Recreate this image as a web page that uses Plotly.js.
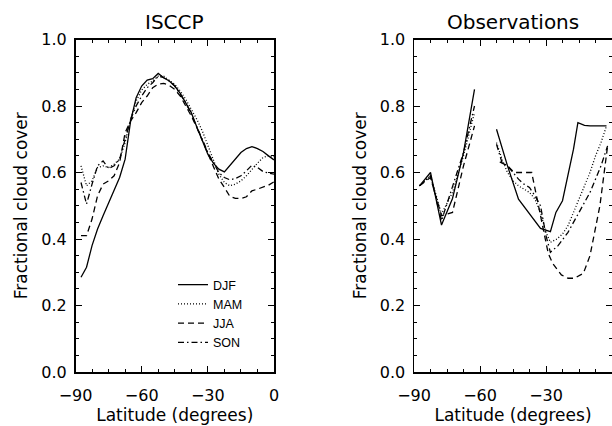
<!DOCTYPE html>
<html><head><meta charset="utf-8">
<script src="https://cdn.plot.ly/plotly-3.0.1.min.js"></script>
<style>html,body{margin:0;padding:0;background:#fff;overflow:hidden;} #chart{width:612px;height:426px;}</style>
</head><body><div id="chart"></div>
<script>
// ---- ISCCP panel (2.5 degree latitude grid) ----
const isccpLat = [-87.5,-85,-82.5,-80,-77.5,-75,-72.5,-70,-67.5,-65,-62.5,-60,-57.5,-55,-52.5,-50,-47.5,-45,-42.5,-40,-37.5,-35,-32.5,-30,-27.5,-25,-22.5,-20,-17.5,-15,-12.5,-10,-7.5,-5,-2.5,0];
const isccpDJF = [0.285,0.315,0.38,0.43,0.47,0.51,0.55,0.585,0.64,0.755,0.825,0.86,0.878,0.882,0.898,0.885,0.875,0.86,0.838,0.81,0.78,0.737,0.695,0.655,0.628,0.61,0.602,0.622,0.64,0.66,0.672,0.678,0.672,0.663,0.65,0.638];
const isccpMAM = [0.62,0.56,0.575,0.615,0.62,0.615,0.625,0.64,0.69,0.76,0.815,0.848,0.865,0.875,0.89,0.89,0.877,0.865,0.845,0.82,0.79,0.76,0.725,0.68,0.64,0.595,0.57,0.56,0.565,0.575,0.59,0.61,0.628,0.645,0.65,0.648];
const isccpJJA = [0.41,0.41,0.46,0.53,0.565,0.575,0.59,0.63,0.72,0.755,0.78,0.81,0.83,0.855,0.866,0.868,0.862,0.85,0.83,0.80,0.77,0.735,0.695,0.66,0.62,0.58,0.555,0.528,0.522,0.522,0.527,0.545,0.55,0.556,0.562,0.572];
const isccpSON = [0.57,0.505,0.565,0.62,0.635,0.612,0.62,0.64,0.70,0.76,0.80,0.83,0.855,0.87,0.89,0.885,0.875,0.86,0.835,0.81,0.775,0.74,0.70,0.66,0.63,0.60,0.585,0.578,0.582,0.59,0.605,0.622,0.615,0.603,0.598,0.595];

// ---- Observations panel (null = data gap) ----
const obsDJFLat = [-87.5,-82.5,-77.5,-72.5,-67.5,-62.5,-57.5,-52.5,-47.5,-42.5,-37.5,-32.5,-28,-25.5,-22.5,-17.5,-15.5,-12.5,-10,-2.5];
const obsDJF    = [0.56,0.60,0.442,0.522,0.66,0.85,null,0.73,0.62,0.52,0.477,0.432,0.422,0.48,0.515,0.67,0.75,0.742,0.74,0.74];
const obsMAMLat = [-87.5,-82.5,-77.5,-72.5,-67.5,-62.5,-57.5,-52.5,-50,-47.5,-45,-42.5,-40,-37.5,-35,-32.5,-30,-28,-25,-22.5,-20,-17.5,-15,-12.5,-10,-7.5,-5,-2.5];
const obsMAM    = [0.56,0.59,0.475,0.54,0.65,0.78,null,0.69,0.64,0.60,0.575,0.56,0.55,0.54,0.52,0.48,0.42,0.39,0.40,0.415,0.44,0.48,0.52,0.555,0.60,0.65,0.69,0.74];
const obsJJALat = [-87.5,-82.5,-77.5,-72.5,-67.5,-62.5,-57.5,-51,-47.5,-44.5,-36.5,-29,-27,-23,-20,-17,-13,-10,-5.5,-2];
const obsJJA    = [0.56,0.585,0.47,0.48,0.62,0.74,null,0.632,0.62,0.60,0.60,0.357,0.327,0.292,0.282,0.282,0.297,0.35,0.50,0.68];
const obsSONLat = [-87.5,-82.5,-77.5,-72.5,-67.5,-62.5,-57.5,-52.5,-50,-47.5,-45,-42.5,-40,-37.5,-35,-32.5,-30,-28,-24.5,-20,-15,-10,-5,-2];
const obsSON    = [0.56,0.59,0.455,0.555,0.66,0.80,null,0.685,0.63,0.62,0.60,0.58,0.565,0.555,0.53,0.50,0.41,0.36,0.38,0.42,0.48,0.54,0.62,0.68];

const seasons = ['DJF','MAM','JJA','SON'];
const dashes = ['solid','1px,2px','6px,4px','6px,3px,1.5px,3px'];

const isccpVals = [isccpDJF, isccpMAM, isccpJJA, isccpSON];
const obsLats = [obsDJFLat, obsMAMLat, obsJJALat, obsSONLat];
const obsVals = [obsDJF, obsMAM, obsJJA, obsSON];

const traces = [];
seasons.forEach((s,i) => {
  traces.push({x: isccpLat, y: isccpVals[i], name: s, type:'scatter', mode:'lines',
    line:{color:'#000', width:1.3, dash:dashes[i]}, xaxis:'x', yaxis:'y', showlegend:true});
});
seasons.forEach((s,i) => {
  traces.push({x: obsLats[i], y: obsVals[i], name: s, type:'scatter', mode:'lines',
    line:{color:'#000', width:1.3, dash:dashes[i]}, xaxis:'x2', yaxis:'y2', showlegend:false, connectgaps:false});
});

const FONT = 'DejaVu Sans, sans-serif';
const H = 426, W = 612;
const yDom = [54/H, 386.5/H];

function xAx(dom){
  return {domain: dom, range:[-90,0], tickmode:'linear', tick0:0, dtick:30,
    showline:true, linecolor:'#000', linewidth:1.5, mirror:'allticks',
    ticks:'inside', ticklen:6, tickwidth:1, tickcolor:'#000',
    minor:{ticks:'inside', ticklen:3, dtick:7.5, tick0:0, tickcolor:'#000', tickwidth:1, showgrid:false},
    showgrid:false, zeroline:false, fixedrange:true,
    tickfont:{family:FONT, size:16, color:'#000'}, ticklabelstandoff:8,
    title:{text:'Latitude (degrees)', font:{family:FONT, size:17, color:'#000'}, standoff:0},
    automargin:false};
}
function yAx(anchor){
  return {domain: yDom, range:[0,1], tickmode:'linear', tick0:0, dtick:0.2, tickformat:'.1f',
    anchor: anchor,
    showline:true, linecolor:'#000', linewidth:1.5, mirror:'allticks',
    ticks:'inside', ticklen:6, tickwidth:1, tickcolor:'#000',
    minor:{ticks:'inside', ticklen:3, dtick:0.05, tick0:0, tickcolor:'#000', tickwidth:1, showgrid:false},
    showgrid:false, zeroline:false, fixedrange:true,
    tickfont:{family:FONT, size:16, color:'#000'}, ticklabelstandoff:4,
    title:{text:'Fractional cloud cover', font:{family:FONT, size:17, color:'#000'}, standoff:9},
    automargin:false};
}

const layout = {
  width: W, height: H,
  margin:{l:0, r:0, t:0, b:0, pad:0},
  paper_bgcolor:'#fff', plot_bgcolor:'#fff',
  font:{family:FONT, color:'#000'},
  xaxis: Object.assign(xAx([75.5/W, 274/W]), {anchor:'y'}),
  yaxis: yAx('x'),
  xaxis2: Object.assign(xAx([414/W, 1]), {anchor:'y2'}),
  yaxis2: yAx('x2'),
  showlegend:true,
  legend:{x:173/W, y:1-270/H, xanchor:'left', yanchor:'top', bgcolor:'rgba(0,0,0,0)', borderwidth:0,
    font:{family:'Liberation Sans, Arial, sans-serif', size:12.5, color:'#000'}, itemwidth:30, tracegroupgap:0},
  annotations:[
    {text:'ISCCP', xref:'paper', yref:'paper', x:174.75/W, y:1-22/H, xanchor:'center', yanchor:'middle', showarrow:false, font:{family:FONT, size:20, color:'#000'}},
    {text:'Observations', xref:'paper', yref:'paper', x:513/W, y:1-22/H, xanchor:'center', yanchor:'middle', showarrow:false, font:{family:FONT, size:20, color:'#000'}}
  ]
};

Plotly.newPlot('chart', traces, layout, {displayModeBar:false, staticPlot:true});
</script></body></html>
